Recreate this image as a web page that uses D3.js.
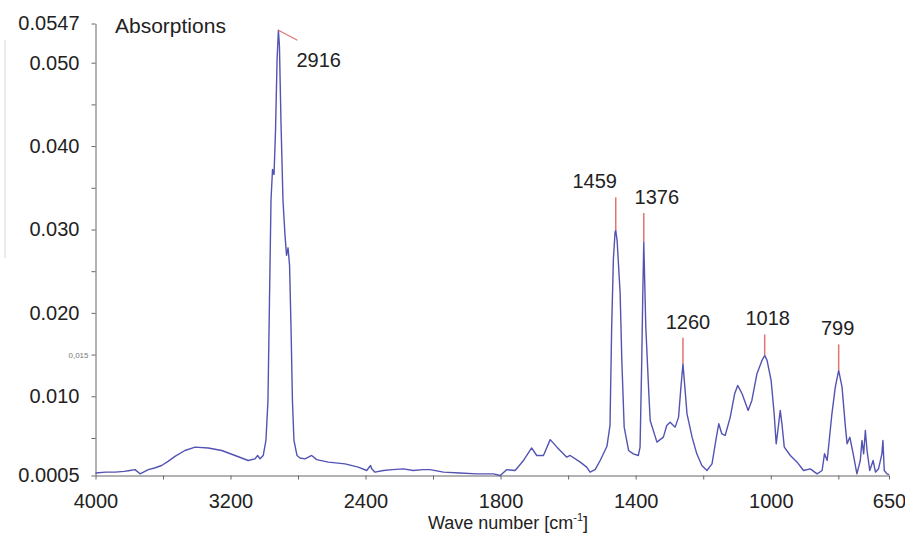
<!doctype html>
<html>
  <head>
    <script src="https://d3js.org/d3.v7.min.js"></script>
    <style>
      body { margin: 0; background: #fff; }
      text { font-family: "Liberation Sans", Arial, sans-serif; fill: #222; }
    </style>
  </head>
  <body>
    <div id="graphic"></div>
    <script>

// spectrum (cm-1, absorbance)
var waveNumbers = [4000, 3940, 3884, 3830, 3796, 3766, 3736, 3687, 3650, 3608, 3570, 3529, 3470, 3410, 3332,
  3252, 3173, 3095, 3055, 3039, 3025, 3006, 2990, 2978, 2969, 2960, 2951, 2942, 2933, 2924, 2916, 2910, 2901,
  2889, 2877, 2868, 2859, 2850, 2841, 2833, 2824, 2806, 2788, 2758, 2719, 2689, 2620, 2521, 2443, 2393, 2370,
  2363, 2344, 2294, 2240, 2176, 2117, 2060, 2018, 1969, 1920, 1871, 1821, 1801, 1782, 1757, 1732, 1708, 1693,
  1673, 1653, 1633, 1604, 1594, 1564, 1545, 1535, 1520, 1505, 1485, 1476, 1471, 1466, 1461, 1459, 1455, 1446,
  1441, 1434, 1421, 1407, 1392, 1387, 1382, 1379, 1376, 1370, 1361, 1357, 1337, 1318, 1308, 1298, 1283, 1273,
  1266, 1260, 1256, 1248, 1233, 1219, 1204, 1189, 1174, 1161, 1154, 1145, 1135, 1120, 1107, 1098, 1085, 1067,
  1056, 1041, 1026, 1018, 1011, 999, 990, 984, 979, 972, 967, 960, 942, 922, 903, 883, 863, 848, 841, 833,
  819, 809, 799, 789, 779, 774, 766, 756, 745, 735, 730, 725, 720, 715, 707, 697, 690, 681, 671, 668, 664,
  656, 650];

var absorbance = [0.0008, 0.0009, 0.0009, 0.0010, 0.0011, 0.0012, 0.0007, 0.0012, 0.0014, 0.0017, 0.0022, 0.0028,
  0.0035, 0.0039, 0.0038, 0.0035, 0.0029, 0.0023, 0.0025, 0.0029, 0.0025, 0.0029, 0.0047, 0.0095, 0.0215,
  0.0335, 0.0372, 0.0366, 0.0420, 0.0504, 0.0539, 0.0520, 0.0430, 0.0335, 0.0293, 0.0269, 0.0278, 0.0257,
  0.0179, 0.0095, 0.0047, 0.0029, 0.0026, 0.0025, 0.0029, 0.0024, 0.0021, 0.0019, 0.0015, 0.0011, 0.0017,
  0.0013, 0.0009, 0.0011, 0.0012, 0.0013, 0.0011, 0.0012, 0.0012, 0.0009, 0.0008, 0.0007, 0.0007, 0.0005,
  0.0012, 0.0011, 0.0023, 0.0038, 0.0029, 0.0029, 0.0048, 0.0039, 0.0027, 0.0029, 0.0021, 0.0015, 0.0009,
  0.0012, 0.0023, 0.0040, 0.0065, 0.0183, 0.0264, 0.0297, 0.0299, 0.0287, 0.0224, 0.0143, 0.0063, 0.0035,
  0.0031, 0.0029, 0.0039, 0.0143, 0.0220, 0.0285, 0.0183, 0.0103, 0.0071, 0.0045, 0.0051, 0.0065, 0.0069,
  0.0063, 0.0075, 0.0111, 0.0139, 0.0119, 0.0079, 0.0051, 0.0031, 0.0017, 0.0011, 0.0019, 0.0051, 0.0067,
  0.0055, 0.0053, 0.0075, 0.0103, 0.0113, 0.0103, 0.0083, 0.0095, 0.0127, 0.0143, 0.0149, 0.0143, 0.0119,
  0.0079, 0.0043, 0.0059, 0.0083, 0.0067, 0.0039, 0.0029, 0.0021, 0.0011, 0.0013, 0.0007, 0.0011, 0.0031,
  0.0023, 0.0079, 0.0111, 0.0131, 0.0111, 0.0063, 0.0043, 0.0051, 0.0031, 0.0007, 0.0023, 0.0047, 0.0031,
  0.0059, 0.0035, 0.0011, 0.0023, 0.0009, 0.0013, 0.0031, 0.0047, 0.0011, 0.0007, 0.0006];

var peakWaves = [2916, 1459, 1376, 1260, 1018, 799];

var xTicks = [4000, 3600, 3200, 2800, 2400, 2000, 1800, 1600, 1400, 1200, 1000, 800, 650];
var xTickLabels = ["4000", "", "3200", "", "2400", "", "1800", "", "1400", "", "1000", "", "650"];

var yTicks = [0.0005, 0.005, 0.01, 0.015, 0.02, 0.025, 0.03, 0.035, 0.04, 0.045, 0.05, 0.0547];
var yTickLabels = ["0.0005", "", "0.010", "0,015", "0.020", "", "0.030", "", "0.040", "", "0.050", "0.0547"];

var spectrum = waveNumbers.map((w, i) => ({w: w, a: absorbance[i]}));

var svg = d3.select("#graphic").append("svg")
  .attr("width", 905)
  .attr("height", 550);

// FTIR style axis: scale doubles below 2000 cm-1
var x = d3.scaleLinear().domain([4000, 2000, 650]).range([95.5, 433, 889]);
var y = d3.scaleLinear().domain([0.0005, 0.0547]).range([475.5, 23.5]);

// stray scan line at the left edge
svg.append("line")
  .attr("x1", 5).attr("x2", 5).attr("y1", 40).attr("y2", 258)
  .style("stroke", "#d8d8d8");

// x axis
var xAxis = d3.axisBottom(x)
  .tickValues(xTicks)
  .tickFormat((d, i) => xTickLabels[i])
  .tickSizeInner(4)
  .tickSizeOuter(0)
  .tickPadding(14);

var gx = svg.append("g")
  .attr("transform", "translate(0," + y(0.0005) + ")")
  .call(xAxis);

// y axis
var yAxis = d3.axisLeft(y)
  .tickValues(yTicks)
  .tickFormat((d, i) => yTickLabels[i])
  .tickSizeInner(4)
  .tickSizeOuter(0)
  .tickPadding(12);

var gy = svg.append("g")
  .attr("transform", "translate(" + x(4000) + ",0)")
  .call(yAxis);

[gx, gy].forEach(function(g) {
  g.select(".domain").style("stroke", "#666");
  g.selectAll(".tick line").style("stroke", "#666");
  g.selectAll(".tick text")
    .style("font-family", '"Liberation Sans", Arial, sans-serif')
    .style("font-size", "20px")
    .style("fill", "#222");
});

// the small hand written 0,015 label
gy.selectAll(".tick text")
  .filter(d => d === 0.015)
  .attr("x", -7)
  .style("font-size", "8px")
  .style("fill", "#777");

// spectrum line
var line = d3.line()
  .x(d => x(d.w))
  .y(d => y(d.a));

svg.append("path")
  .datum(spectrum)
  .attr("d", line)
  .style("fill", "none")
  .style("stroke", "#5353b3")
  .style("stroke-width", 1.4)
  .style("stroke-linejoin", "round");

// peak markers
var markLen = {1459: 33, 1376: 29, 1260: 26, 1018: 21, 799: 26};
var labelDx = {1459: -21, 1376: 13, 1260: 5, 1018: 3, 799: -1};

peakWaves.forEach(function(p) {
  var a = absorbance[waveNumbers.indexOf(p)];
  var px = x(p), py = y(a);
  if (p === 2916) {
    svg.append("line")
      .attr("x1", px).attr("y1", py).attr("x2", px + 19).attr("y2", py + 10)
      .style("stroke", "#e07474").style("stroke-width", 1.2);
    svg.append("text")
      .attr("x", px + 18).attr("y", py + 37)
      .style("font-size", "20px")
      .text(p);
  } else {
    svg.append("line")
      .attr("x1", px).attr("y1", py).attr("x2", px).attr("y2", py - markLen[p])
      .style("stroke", "#e07474").style("stroke-width", 1.5);
    svg.append("text")
      .attr("x", px + labelDx[p]).attr("y", py - markLen[p] - 9)
      .attr("text-anchor", "middle")
      .style("font-size", "20px")
      .text(p);
  }
});

// titles
svg.append("text")
  .attr("x", 115)
  .attr("y", 33)
  .style("font-size", "21px")
  .text("Absorptions");

var xt = svg.append("text")
  .attr("x", 508)
  .attr("y", 529)
  .attr("text-anchor", "middle")
  .style("font-size", "18px");
xt.append("tspan").text("Wave number [cm");
xt.append("tspan").attr("dy", -8).style("font-size", "11px").text("-1");
xt.append("tspan").attr("dy", 8).text("]");

    </script>
  </body>
</html>
